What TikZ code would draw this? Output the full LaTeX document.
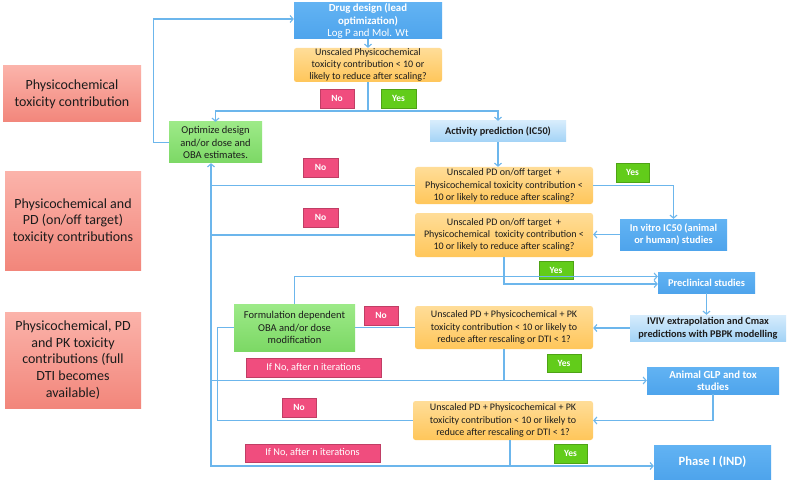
\documentclass[tikz,border=0pt]{standalone}
\usepackage{fontspec}
\setmainfont{Carlito}
\usetikzlibrary{arrows.meta,calc}
\definecolor{lineblue}{HTML}{6CB6EC}
\definecolor{blueA}{HTML}{62B3F3}
\definecolor{blueB}{HTML}{4EA4EC}
\definecolor{lblueA}{HTML}{D6ECFC}
\definecolor{lblueB}{HTML}{A3D3F6}
\definecolor{orA}{HTML}{FFDD98}
\definecolor{orB}{HTML}{FFC65A}
\definecolor{pinkA}{HTML}{FBB3AA}
\definecolor{pinkB}{HTML}{F2867B}
\definecolor{grA}{HTML}{9DEA88}
\definecolor{grB}{HTML}{7CD865}
\definecolor{nocol}{HTML}{F04D7E}
\definecolor{yescol}{HTML}{62CC1A}
\definecolor{txt}{HTML}{1C1C1C}
\tikzset{
  box/.style={inner sep=0pt, align=center, text=txt},
  pinkbox/.style={box, top color=pinkA, bottom color=pinkB, font=\fontsize{14}{16.7}\selectfont},
  bluebox/.style={box, top color=blueA, bottom color=blueB, text=white, font=\bfseries\fontsize{10.4}{12.4}\selectfont},
  lbluebox/.style={box, top color=lblueA, bottom color=lblueB, font=\bfseries\fontsize{10.3}{13}\selectfont},
  decbox/.style={box, rounded corners=2.5pt, top color=orA, bottom color=orB, font=\fontsize{10}{12.2}\selectfont},
  greenbox/.style={box, top color=grA, bottom color=grB, font=\fontsize{10.5}{12.6}\selectfont},
  nobox/.style={box, fill=nocol, draw=nocol!80!black, line width=0.4pt, text=white, font=\bfseries\fontsize{9.5}{10}\selectfont},
  yesbox/.style={box, fill=yescol, draw=yescol!80!black, line width=0.4pt, text=white, font=\bfseries\fontsize{9.5}{10}\selectfont},
  ifbox/.style={box, fill=nocol, draw=nocol!80!black, line width=0.4pt, text=white, font=\fontsize{10.3}{10}\selectfont},
  conn/.style={draw=lineblue, line width=1.1pt},
  arr/.style={conn, -{Straight Barb[length=3pt,width=7pt]}},
}
\newcommand{\bx}[6]{\node[#1, minimum width=#4pt, minimum height=#5pt] (#2) at (#3) {#6};}
\begin{document}
\begin{tikzpicture}[x=1pt,y=-1pt]
\useasboundingbox (0,0) rectangle (789,481);
\fill[white] (0,0) rectangle (789,481);
% left category boxes
\bx{pinkbox}{p1}{72,94}{138}{56}{Physicochemical\\toxicity contribution}
\bx{pinkbox}{p2}{73,221}{136}{98}{Physicochemical and\\PD (on/off target)\\toxicity contributions}
\bx{pinkbox}{p3}{73,360}{136}{96}{Physicochemical, PD\\and PK toxicity\\contributions (full\\DTI becomes\\available)}
% main flow
\bx{bluebox}{dd}{368,21}{148}{36}{\fontsize{10.8}{11.6}\selectfont Drug design (lead\\\fontsize{10.8}{11.6}\selectfont optimization)\\\mdseries\fontsize{10.8}{11.6}\selectfont Log P and Mol. Wt}
\bx{decbox}{d1}{368,65}{148}{34}{Unscaled Physicochemical\\toxicity contribution < 10 or\\likely to reduce after scaling?}
\bx{nobox}{no1}{337,98.5}{34}{19}{No}
\bx{yesbox}{yes1}{398.5,98.5}{35}{19}{Yes}
\bx{greenbox}{opt}{215.5,142.5}{93}{41}{Optimize design\\and/or dose and\\OBA estimates.}
\bx{lbluebox}{act}{498,131.5}{136}{21}{Activity prediction (IC50)}
\bx{decbox}{d2}{504,185.5}{178}{37}{Unscaled PD on/off target\ \ +\\Physicochemical toxicity contribution <\\10 or likely to reduce after scaling?}
\bx{yesbox}{yes2}{632.5,172.5}{33}{19}{Yes}
\bx{nobox}{noA}{320.5,167.5}{35}{19}{No}
\bx{nobox}{noB}{320.5,217.5}{35}{19}{No}
\bx{bluebox}{invitro}{673.5,234.5}{107}{31}{In vitro IC50 (animal\\or human) studies}
\bx{decbox}{d3}{504,235}{178}{44}{Unscaled PD on/off target\ \ +\\Physicochemical\ \ toxicity contribution <\\10 or likely to reduce after scaling?}
\bx{yesbox}{yes3}{556,270}{34}{18}{Yes}
\bx{bluebox}{pre}{706.5,282.5}{97}{21}{Preclinical studies}
\bx{lbluebox}{ivv}{708,328}{156}{26}{IVIV extrapolation and Cmax\\predictions with PBPK modelling}
\bx{decbox}{d4}{504,327.5}{178}{43}{Unscaled PD + Physicochemical + PK\\toxicity contribution < 10 or likely to\\reduce after rescaling or DTI < 1?}
\bx{yesbox}{yes4}{564,363}{34}{18}{Yes}
\bx{nobox}{noC}{381,315.5}{34}{19}{No}
\bx{greenbox}{form}{294.5,327.5}{121}{47}{Formulation dependent\\OBA and/or dose\\modification}
\bx{ifbox}{if1}{313.5,367.5}{135}{19}{If No, after n iterations}
\bx{bluebox}{animal}{713,380.5}{132}{27}{\fontsize{10.8}{12.8}\selectfont Animal GLP and tox\\\fontsize{10.8}{12.8}\selectfont studies}
\bx{decbox}{d5}{503,420.5}{180}{39}{Unscaled PD + Physicochemical + PK\\toxicity contribution < 10 or likely to\\reduce after rescaling or DTI < 1?}
\bx{nobox}{noD}{299,407.5}{34}{19}{No}
\bx{ifbox}{if2}{312.5,453}{135}{18}{If No, after n iterations}
\bx{yesbox}{yes5}{570.5,453.5}{33}{19}{Yes}
\bx{bluebox}{phase}{712.5,462}{117}{34}{\fontsize{12.6}{13}\selectfont Phase I (IND)}
% helper coordinates
\coordinate (j1) at (368,111);
\coordinate (vb) at (211,466);
\coordinate (d5s) at ([xshift=7pt]d5.south);
% connectors
\draw[arr] (dd.south) -- (d1.north);
\draw[conn] (d1.south) -- (j1);
\draw[arr] (j1) -| (opt.north);
\draw[arr] (j1) -| (act.north);
\draw[arr] (opt.west) -- ++(-15,0) |- ([yshift=2pt]dd.west);
\draw[arr] (act.south) -- (act.south |- d2.north);
\draw[arr] (d2.east) -| (invitro.north);
\draw[arr] (invitro.west) -- (invitro.west -| d3.east);
\draw[conn] (d2.west) -- (d2.west -| vb);
\draw[conn] (d3.west) -- (d3.west -| vb);
\draw[arr] (d3.south) |- ([yshift=-1.5pt]pre.west);
\draw[arr] (form.north) |- ([yshift=6pt]pre.west);
\draw[arr] (pre.south) -- (pre.south |- ivv.north);
\draw[arr] (ivv.west) -- (ivv.west -| d4.east);
\draw[conn] (d4.west) -- (form.east);
\draw[conn] (form.west) -- ++(-16,0) |- (d5.west);
\draw[arr] (d4.south) |- (animal.west);
\coordinate (j4) at (d4.south |- animal.west);
\draw[conn] (j4) -- (j4 -| vb);
\draw[arr] (animal.south) |- (d5.east);
\draw[arr] (d5s) |- (phase.west |- vb);
\draw[arr] (d5s |- vb) -- (vb) -- (vb |- opt.south);
\end{tikzpicture}
\end{document}
